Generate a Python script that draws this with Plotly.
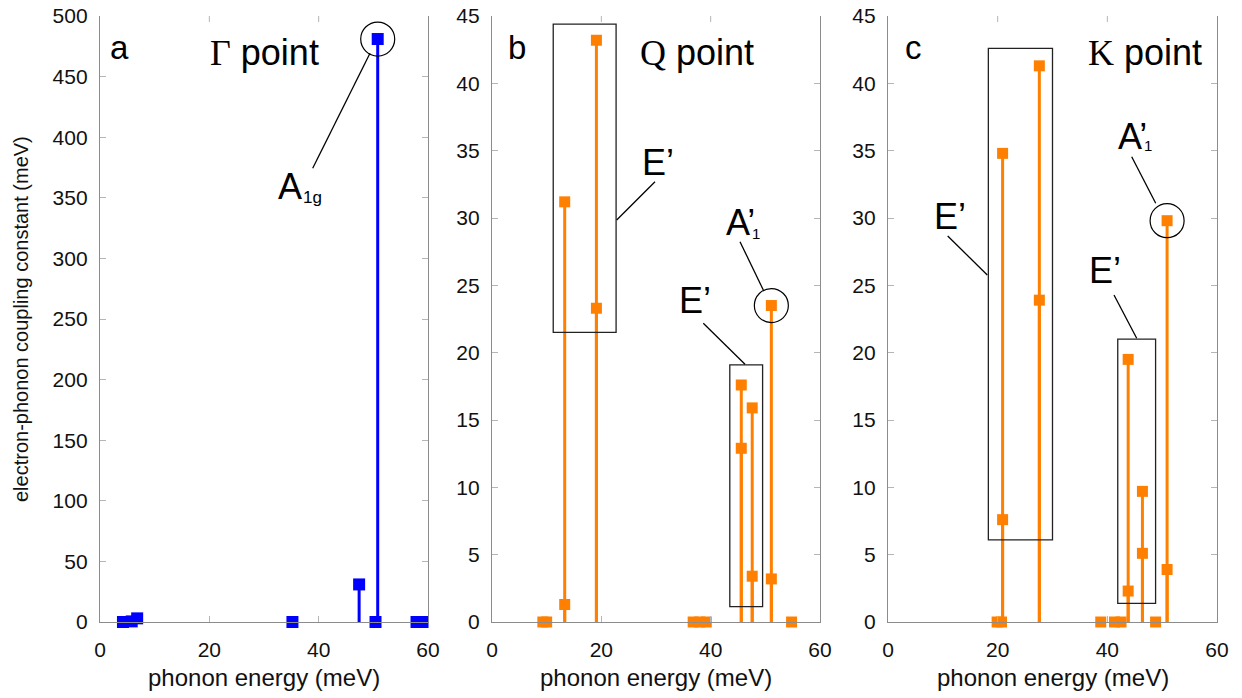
import plotly.graph_objects as go

W, H = 1242, 698

# ---------------- data ----------------
gamma_energy = [4.2, 5.8, 6.8, 35.2, 47.4, 50.4, 50.8, 57.9, 59.0]
gamma_coupling = [0.0, 0.5, 3.0, 0.0, 31.0, 0.0, 481.0, 0.0, 0.0]

q_energy = [9.3, 10.0, 13.3, 13.3, 19.1, 19.1, 36.8, 38.0, 39.2,
            45.6, 45.6, 47.6, 47.6, 51.1, 51.1, 54.8]
q_coupling = [0.0, 0.0, 1.3, 31.2, 43.2, 23.3, 0.0, 0.0, 0.0,
              17.6, 12.9, 15.9, 3.4, 23.5, 3.2, 0.0]

k_energy = [19.9, 20.7, 20.9, 20.9, 27.6, 27.6, 38.8, 41.3, 42.5,
            43.8, 43.8, 46.4, 46.4, 48.8, 50.9, 50.9]
k_coupling = [0.0, 0.0, 34.8, 7.6, 41.3, 23.9, 0.0, 0.0, 0.0,
              19.5, 2.3, 9.7, 5.1, 0.0, 29.8, 3.9]

x_ticks = [0, 20, 40, 60]
gamma_y_ticks = list(range(0, 501, 50))
qk_y_ticks = list(range(0, 46, 5))

panel_letters = ["a", "b", "c"]
panel_titles = ['<span style="font-family:Liberation Serif">\u0393</span> point',
                '<span style="font-family:Liberation Serif">Q</span> point',
                '<span style="font-family:Liberation Serif">K</span> point']
x_title = "phonon energy (meV)"
y_title = "electron-phonon coupling constant (meV)"

# highlighted (circled) mode index in each panel
circled_idx = [6, 13, 14]

# boxes around E' groups (data units: x0, x1, y0, y1)
q_boxes = [(11.2, 22.7, 21.5, 44.4), (43.5, 49.5, 1.14, 19.1)]
k_boxes = [(18.3, 30.0, 6.1, 42.6), (41.9, 48.8, 1.39, 21.0)]

BLUE = "#0000FF"
ORANGE = "#FF8000"

# ---------------- layout geometry (pixels) ----------------
AX_L = [100, 492, 888]
AX_R = [428, 820, 1217]
TOP, BOTTOM = 16, 622


def px(x):
    return x / W


def py(y):
    return 1 - y / H


panels = [
    dict(e=gamma_energy, c=gamma_coupling, color=BLUE, yt=gamma_y_ticks, ms=12, boxes=[]),
    dict(e=q_energy, c=q_coupling, color=ORANGE, yt=qk_y_ticks, ms=11, boxes=q_boxes),
    dict(e=k_energy, c=k_coupling, color=ORANGE, yt=qk_y_ticks, ms=11, boxes=k_boxes),
]

fig = go.Figure()
shapes = []
annotations = []
FONT = "Liberation Sans, Arial, sans-serif"


def ann(text, x, y, size=36, xanchor="center", yanchor="middle", **kw):
    d = dict(text=text, x=px(x), y=py(y), xref="paper", yref="paper", showarrow=False,
             xanchor=xanchor, yanchor=yanchor,
             font=dict(size=size, color=kw.pop("color", "black"), family=FONT))
    d.update(kw)
    annotations.append(d)


for i, p in enumerate(panels):
    sfx = "" if i == 0 else str(i + 1)
    xa, ya = "x" + sfx, "y" + sfx
    sx, sy = [], []
    for e, c in zip(p["e"], p["c"]):
        if c > 0:
            sx += [e, e, None]
            sy += [0, c, None]
    fig.add_trace(go.Scatter(x=sx, y=sy, mode="lines",
                             line=dict(color=p["color"], width=3),
                             xaxis=xa, yaxis=ya, showlegend=False,
                             hoverinfo="skip", cliponaxis=False))
    fig.add_trace(go.Scatter(x=p["e"], y=p["c"], mode="markers",
                             marker=dict(symbol="square", size=p["ms"], color=p["color"],
                                         line=dict(width=0)),
                             xaxis=xa, yaxis=ya, showlegend=False, cliponaxis=False))

    axis_common = dict(showline=True, linecolor="#8c8c8c", linewidth=1.3,
                       ticks="inside", ticklen=6, tickcolor="#b5b5b5", tickwidth=1,
                       showgrid=False, zeroline=False, automargin=False,
                       tickfont=dict(size=21, color="#111111", family=FONT))
    fig.layout["xaxis" + sfx] = dict(domain=[px(AX_L[i]), px(AX_R[i])], range=[0, 60],
                                     tickvals=x_ticks, anchor=ya, ticklabelstandoff=9,
                                     **axis_common)
    fig.layout["yaxis" + sfx] = dict(domain=[py(BOTTOM), py(TOP)],
                                     range=[0, p["yt"][-1]], tickvals=p["yt"],
                                     anchor=xa, mirror="ticks", ticklabelstandoff=7,
                                     **axis_common)

    # top mirror ticks (no top frame line)
    for t in x_ticks[1:-1]:
        shapes.append(dict(type="line", xref=xa, yref=ya + " domain", x0=t, x1=t,
                           ysizemode="pixel", yanchor=1, y0=0, y1=-6,
                           line=dict(color="#b5b5b5", width=1)))

    # circle around the highlighted mode
    ci = circled_idx[i]
    shapes.append(dict(type="circle", xref=xa, yref=ya, xsizemode="pixel", ysizemode="pixel",
                       xanchor=p["e"][ci], yanchor=p["c"][ci], x0=-17, x1=17, y0=-17, y1=17,
                       line=dict(color="black", width=1.2)))

    for (bx0, bx1, by0, by1) in p["boxes"]:
        shapes.append(dict(type="rect", xref=xa, yref=ya, x0=bx0, x1=bx1, y0=by0, y1=by1,
                           line=dict(color="#222222", width=1.3)))

    # panel letters, titles and x-axis titles
    ann(panel_letters[i], [119, 517, 913][i], 48, size=33)
    ann(panel_titles[i], [264, 697, 1145][i], 53, size=36)
    ann(x_title, (AX_L[i] + AX_R[i]) / 2, 677, size=24, color="#111111")

ann(y_title, 21, 319, size=20, color="#111111", textangle=-90)

# leader lines (pixel coords)
leaders = [((370, 53.3), (312.7, 168.3)),
           ((616.7, 220), (655, 181.7)),
           ((745, 364.3), (703.3, 323.3)),
           ((763.3, 290), (740, 241.7)),
           ((987.3, 275), (947.7, 236)),
           ((1136.7, 338.3), (1114, 295)),
           ((1155.7, 203.3), (1131.7, 156.7))]
for (a, b) in leaders:
    shapes.append(dict(type="line", xref="paper", yref="paper",
                       x0=px(a[0]), y0=py(a[1]), x1=px(b[0]), y1=py(b[1]),
                       line=dict(color="black", width=1.3)))

# A1g label
ann("A", 276, 186, size=36, xanchor="left")
ann("1g", 301, 197, size=17, xanchor="left")
# E' labels
for (cx, cy) in [(658, 162), (695, 300), (950, 217), (1105, 270)]:
    ann("E\u2019", cx, cy, size=36)
# A'1 labels
for (lx, ly, sx1, sy1) in [(724, 222, 756, 233), (1116, 136, 1148, 145)]:
    ann("A\u2019", lx, ly, size=36, xanchor="left")
    ann("1", sx1, sy1, size=15)

fig.update_layout(width=W, height=H, margin=dict(l=0, r=0, t=0, b=0, pad=0),
                  paper_bgcolor="white", plot_bgcolor="white",
                  shapes=shapes, annotations=annotations,
                  font=dict(family=FONT, color="black"))

fig.write_html("out.html",
               post_script="document.body.style.margin='0';"
                           "document.body.style.overflow='hidden';")
